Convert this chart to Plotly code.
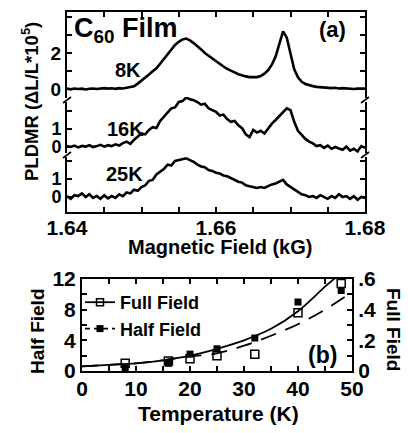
import plotly.graph_objects as go

W, H = 408, 433

# ---------------- Panel (a) data ----------------
FIELD = [1.6400, 1.6405, 1.6410, 1.6415, 1.6420, 1.6425, 1.6430, 1.6435, 1.6440, 1.6445,
         1.6450, 1.6455, 1.6460, 1.6465, 1.6470, 1.6475, 1.6480, 1.6485, 1.6490, 1.6495,
         1.6500, 1.6505, 1.6510, 1.6515, 1.6520, 1.6525, 1.6530, 1.6535, 1.6540, 1.6545,
         1.6550, 1.6555, 1.6560, 1.6565, 1.6570, 1.6575, 1.6580, 1.6585, 1.6590, 1.6595,
         1.6600, 1.6605, 1.6610, 1.6615, 1.6620, 1.6625, 1.6630, 1.6635, 1.6640, 1.6645,
         1.6650, 1.6655, 1.6660, 1.6665, 1.6670, 1.6675, 1.6680, 1.6685, 1.6690, 1.6695,
         1.6700, 1.6705, 1.6710, 1.6715, 1.6720, 1.6725, 1.6730, 1.6735, 1.6740, 1.6745,
         1.6750, 1.6755, 1.6760, 1.6765, 1.6770, 1.6775, 1.6780, 1.6785, 1.6790, 1.6795,
         1.6800]

PLDMR_8K = [0.02, -0.02, 0.03, 0.00, 0.02, -0.03, 0.01, 0.03, 0.00, 0.02,
            0.05, 0.02, 0.04, 0.01, 0.05, 0.03, 0.08, 0.10, 0.15, 0.30,
            0.45, 0.60, 0.80, 0.98, 1.15, 1.40, 1.65, 1.95, 2.20, 2.45,
            2.62, 2.75, 2.80, 2.70, 2.55, 2.40, 2.20, 2.00, 1.85, 1.65,
            1.50, 1.35, 1.25, 1.12, 1.00, 0.92, 0.82, 0.75, 0.70, 0.66,
            0.65, 0.66, 0.72, 0.85, 1.05, 1.35, 1.80, 2.50, 3.20, 2.85,
            1.90, 1.10, 0.65, 0.40, 0.28, 0.20, 0.16, 0.12, 0.10, 0.12,
            0.08, 0.05, 0.07, 0.03, 0.05, 0.02, 0.03, 0.00, 0.02, 0.01,
            0.02]

PLDMR_16K = [0.05, 0.00, 0.08, -0.02, 0.06, 0.02, 0.10, 0.00, 0.05, 0.12,
             0.02, 0.10, 0.05, 0.15, 0.08, 0.22, 0.30, 0.18, 0.40, 0.55,
             0.75, 0.70, 0.95, 1.10, 1.05, 1.45, 1.70, 1.90, 2.15, 2.20,
             2.50, 2.55, 2.75, 2.65, 2.60, 2.50, 2.35, 2.40, 2.15, 2.05,
             1.95, 1.75, 1.80, 1.55, 1.40, 1.45, 1.20, 1.05, 0.70, 0.55,
             0.95, 0.80, 0.90, 0.75, 1.05, 1.30, 1.50, 1.70, 1.95, 2.15,
             2.05, 1.40, 0.90, 0.65, 0.45, 0.30, 0.20, 0.05, 0.10, -0.05,
             0.08, -0.10, 0.00, -0.08, -0.15, 0.02, -0.20, -0.10, -0.25, 0.05,
             -0.05]

PLDMR_25K = [0.05, -0.10, 0.10, 0.05, 0.20, 0.00, 0.15, -0.05, 0.05, -0.10,
             0.10, -0.08, 0.05, -0.05, 0.15, 0.05, 0.25, 0.20, 0.40, 0.35,
             0.55, 0.65, 0.90, 0.95, 1.25, 1.40, 1.55, 1.80, 1.75, 2.00,
             2.05, 2.10, 2.15, 2.05, 1.95, 1.80, 1.70, 1.65, 1.50, 1.45,
             1.35, 1.30, 1.20, 1.15, 1.05, 0.95, 0.85, 0.80, 0.65, 0.60,
             0.55, 0.50, 0.55, 0.50, 0.60, 0.70, 0.75, 0.85, 0.95, 0.70,
             0.55, 0.40, 0.30, 0.15, 0.10, 0.00, 0.05, -0.05, 0.10, 0.00,
             -0.10, 0.05, -0.05, 0.15, 0.00, 0.05, -0.10, 0.05, -0.15, 0.00,
             -0.05]

TRACE_LABELS = ["8K", "16K", "25K"]

# ---------------- Panel (b) data ----------------
TEMP = [8, 16, 20, 25, 32, 40, 48]
FULL_FIELD = [0.050, 0.065, 0.080, 0.100, 0.110, 0.380, 0.570]    # right axis
HALF_FIELD = [0.4, 1.0, 2.2, 2.9, 4.3, 9.0, 10.5]                 # left axis

FIT_T_FULL = [0, 5, 10, 15, 20, 25, 30, 35, 40, 45, 47]
FIT_FULL = [0.030, 0.040, 0.050, 0.070, 0.100, 0.145, 0.200, 0.275, 0.390, 0.550, 0.610]
FIT_T_HALF = [0, 5, 10, 15, 20, 25, 30, 35, 40, 45, 50]
FIT_HALF = [0.6, 0.8, 1.0, 1.4, 1.9, 2.3, 3.3, 4.6, 6.1, 8.0, 10.3]

# ---------------- helpers ----------------
def px(x):
    return x / W

def py(y):
    return 1 - y / H

FONT = "Liberation Sans, Arial, sans-serif"
def bf(size):
    return dict(family=FONT, size=size, color="black", weight="bold")

fig = go.Figure()

# panel (a) traces
fig.add_trace(go.Scatter(x=FIELD, y=PLDMR_8K, mode="lines", xaxis="x2", yaxis="y",
                         line=dict(color="black", width=2.6), showlegend=False))
fig.add_trace(go.Scatter(x=FIELD, y=PLDMR_16K, mode="lines", xaxis="x", yaxis="y2",
                         line=dict(color="black", width=2.6), showlegend=False))
fig.add_trace(go.Scatter(x=FIELD, y=PLDMR_25K, mode="lines", xaxis="x", yaxis="y3",
                         line=dict(color="black", width=2.6), showlegend=False))

# panel (b) traces
fig.add_trace(go.Scatter(x=FIT_T_FULL, y=FIT_FULL, mode="lines", xaxis="x3", yaxis="y5",
                         line=dict(color="black", width=1.8, shape="spline"), showlegend=False))
fig.add_trace(go.Scatter(x=FIT_T_HALF, y=FIT_HALF, mode="lines", xaxis="x3", yaxis="y4",
                         line=dict(color="black", width=1.8, shape="spline", dash="16px,10px"),
                         showlegend=False))
fig.add_trace(go.Scatter(x=TEMP, y=FULL_FIELD, mode="markers", xaxis="x3", yaxis="y5",
                         marker=dict(symbol="square-open", size=8, color="black",
                                     line=dict(width=1.5, color="black")), showlegend=False))
fig.add_trace(go.Scatter(x=TEMP, y=HALF_FIELD, mode="markers", xaxis="x3", yaxis="y4",
                         marker=dict(symbol="square", size=7, color="black"), showlegend=False))
# legend entries
fig.add_trace(go.Scatter(x=[None], y=[None], mode="lines+markers", name="Full Field",
                         xaxis="x3", yaxis="y4",
                         line=dict(color="black", width=1.8),
                         marker=dict(symbol="square-open", size=7, color="black",
                                     line=dict(width=1.5, color="black"))))
fig.add_trace(go.Scatter(x=[None], y=[None], mode="lines+markers", name="Half Field",
                         xaxis="x3", yaxis="y4",
                         line=dict(color="black", width=1.8, dash="5px,4px"),
                         marker=dict(symbol="square", size=7, color="black")))

A_X0, A_X1 = 67, 365
axis_common = dict(showline=True, linecolor="black", linewidth=2, ticks="inside",
                   tickcolor="black", tickwidth=1.5, ticklen=5, showgrid=False,
                   zeroline=False, automargin=False)
minor_ticks = lambda d: dict(dtick=d, ticks="inside", ticklen=5, tickcolor="black", tickwidth=1.5)

xa_dom = [px(A_X0), px(A_X1)]
fig.update_layout(
    width=W, height=H, margin=dict(l=0, r=0, t=0, b=0, pad=0, autoexpand=False),
    paper_bgcolor="white", plot_bgcolor="rgba(0,0,0,0)",
    xaxis=dict(domain=xa_dom, anchor="y3", range=[1.64, 1.68], tickvals=[1.64, 1.66, 1.68],
               ticktext=["1.64", "1.66", "1.68"], tickfont=bf(21), ticklabelstandoff=-4,
               minor=minor_ticks(0.005), **axis_common),
    xaxis2=dict(domain=xa_dom, anchor="y", side="top", range=[1.64, 1.68], dtick=0.005,
                showticklabels=False, **axis_common),
    yaxis=dict(domain=[py(100), py(12)], anchor="x2", range=[-0.611, 4.278],
               tickvals=[0, 2], tickfont=bf(19), minor=minor_ticks(1),
               mirror="ticks", **axis_common),
    yaxis2=dict(domain=[py(155), py(97)], anchor="x", range=[-0.444, 2.778],
                tickvals=[0, 1], tickfont=bf(18), minor=minor_ticks(1),
                mirror="ticks", **axis_common),
    yaxis3=dict(domain=[py(212), py(155)], anchor="x", range=[-0.833, 2.333],
                tickvals=[0, 1], tickfont=bf(18), minor=minor_ticks(1),
                mirror="ticks", **axis_common),
    xaxis3=dict(domain=[px(82), px(352)], anchor="y4", range=[0, 50], dtick=10,
                tickfont=bf(21), ticklabelstandoff=-2, mirror="ticks", minor=minor_ticks(5),
                **axis_common),
    yaxis4=dict(domain=[py(371), py(279)], anchor="x3", range=[0, 12],
                tickvals=[0, 4, 8, 12], tickfont=bf(21), minor=minor_ticks(2),
                **axis_common),
    yaxis5=dict(anchor="x3", overlaying="y4", side="right", range=[0, 0.6],
                tickvals=[0, 0.2, 0.4, 0.6], ticktext=["0", ".2", ".4", ".6"], tickfont=bf(21),
                minor=minor_ticks(0.1), **axis_common),
    legend=dict(x=px(80), y=py(284), xanchor="left", yanchor="top", bgcolor="rgba(0,0,0,0)",
                font=bf(18), tracegroupgap=0, itemwidth=30),
)

ann = []
def add_text(text, x, y, size, **kw):
    ann.append(dict(text=text, x=px(x), y=py(y), xref="paper", yref="paper",
                    showarrow=False, font=bf(size), **kw))

add_text("C<sub>60</sub> Film", 72, 30, 27, xanchor="left", yanchor="middle")
add_text("(a)", 332, 29, 22, xanchor="center", yanchor="middle")
add_text("Magnetic Field (kG)", 220, 247, 20, xanchor="center", yanchor="middle")
add_text("PLDMR (ΔL/L*10<sup>5</sup>)", 30, 102, 18.5, xanchor="center", yanchor="middle",
         textangle=-90)
add_text("Half Field", 37, 331, 19, xanchor="center", yanchor="middle", textangle=-90)
add_text("Full Field", 394, 329, 19, xanchor="center", yanchor="middle", textangle=90)
add_text("Temperature (K)", 218, 413, 21, xanchor="center", yanchor="middle")
add_text("(b)", 322, 355, 23, xanchor="center", yanchor="middle")

# temperature labels on the traces
ann.append(dict(text=TRACE_LABELS[0], x=1.6482, y=1.05, xref="x2", yref="y",
                showarrow=False, font=bf(20)))
ann.append(dict(text=TRACE_LABELS[1], x=1.6478, y=1.0, xref="x", yref="y2",
                showarrow=False, font=bf(20)))
ann.append(dict(text=TRACE_LABELS[2], x=1.6477, y=1.25, xref="x", yref="y3",
                showarrow=False, font=bf(20)))
fig.update_layout(annotations=ann)

# axis break marks
shapes = []
for yb in (100, 155):
    for xb in (A_X0, A_X1):
        shapes.append(dict(type="line", xref="paper", yref="paper",
                           x0=px(xb), x1=px(xb), y0=py(yb + 2), y1=py(yb - 2),
                           line=dict(color="white", width=4), layer="above"))
        shapes.append(dict(type="line", xref="paper", yref="paper",
                           x0=px(xb - 4), x1=px(xb + 4), y0=py(yb + 3), y1=py(yb - 3),
                           line=dict(color="black", width=1.6), layer="above"))
fig.update_layout(shapes=shapes)

fig.write_html("out.html")
